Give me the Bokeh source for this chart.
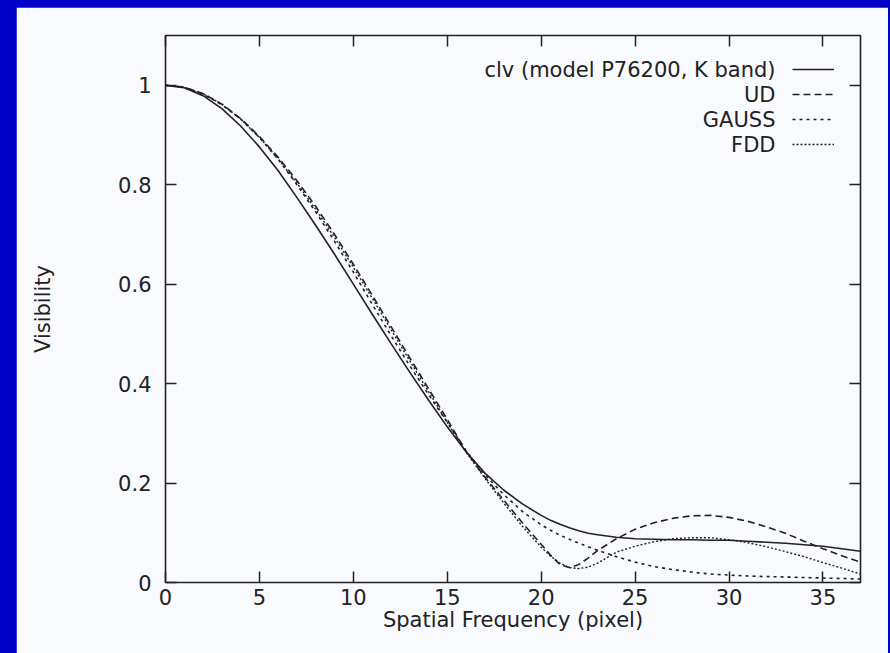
from bokeh.plotting import figure
from bokeh.models import (LinearAxis, FixedTicker, Label, Legend, LegendItem)
from bokeh.layouts import column
from bokeh.embed import file_html
from bokeh.resources import INLINE

# ---------------- data ----------------
freq = [0, 1, 2, 3, 4, 5, 6, 7, 8, 9, 10, 11, 12, 13, 14, 15, 16, 17, 18, 19, 20,
        20.5, 21, 21.5, 22, 22.5, 23, 24, 25, 26, 27, 28, 29, 30, 31, 32, 33, 34, 35, 36, 37]

clv = [1.0, 0.995, 0.979, 0.953, 0.918, 0.876, 0.828, 0.774, 0.718, 0.660, 0.600,
       0.540, 0.481, 0.423, 0.367, 0.313, 0.263, 0.220, 0.186, 0.158, 0.135,
       0.125, 0.117, 0.110, 0.104, 0.099, 0.096, 0.091, 0.088, 0.087, 0.086,
       0.086, 0.085, 0.085, 0.083, 0.081, 0.079, 0.076, 0.073, 0.068, 0.063]

ud = [1.0, 0.996, 0.983, 0.962, 0.933, 0.897, 0.855, 0.808, 0.756, 0.700, 0.640,
      0.578, 0.515, 0.452, 0.390, 0.328, 0.264, 0.212, 0.166, 0.120, 0.077,
      0.055, 0.036, 0.030, 0.036, 0.049, 0.064, 0.088, 0.107, 0.120, 0.129,
      0.134, 0.135, 0.131, 0.123, 0.112, 0.099, 0.083, 0.068, 0.054, 0.041]

gauss = [1.0, 0.995, 0.982, 0.961, 0.932, 0.895, 0.851, 0.800, 0.745, 0.686, 0.624,
         0.560, 0.497, 0.436, 0.378, 0.322, 0.265, 0.217, 0.177, 0.143, 0.116,
         0.105, 0.095, 0.087, 0.079, 0.072, 0.065, 0.052, 0.041, 0.032, 0.026,
         0.021, 0.017, 0.015, 0.013, 0.012, 0.011, 0.010, 0.009, 0.008, 0.007]

fdd = [1.0, 0.996, 0.983, 0.962, 0.932, 0.895, 0.852, 0.803, 0.750, 0.694, 0.634,
       0.572, 0.509, 0.446, 0.384, 0.322, 0.262, 0.210, 0.160, 0.113, 0.071,
       0.053, 0.039, 0.030, 0.028, 0.031, 0.039, 0.061, 0.073, 0.082, 0.088,
       0.090, 0.090, 0.086, 0.080, 0.072, 0.062, 0.052, 0.040, 0.029, 0.017]

series_names = ["clv (model P76200, K band)", "UD", "GAUSS", "FDD"]
x_ticks = [0, 5, 10, 15, 20, 25, 30, 35]
y_ticks = [0, 0.2, 0.4, 0.6, 0.8, 1]
y_tick_labels = ["0", "0.2", "0.4", "0.6", "0.8", "1"]

# ---------------- styling ----------------
BLUE = "#0000c8"
PANEL = "#f8fafd"
INK = "#222222"
FONT = "DejaVu Sans"
FS = "21px"

p = figure(width=872, height=646, x_range=(0, 37), y_range=(0, 1.1),
           output_backend="svg", toolbar_location=None,
           margin=(7, 2, 0, 16),
           min_border_left=149, min_border_right=28, min_border_top=28, min_border_bottom=71,
           border_fill_color=PANEL, background_fill_color=PANEL,
           outline_line_color=INK, outline_line_width=1.6)
p.xgrid.visible = False
p.ygrid.visible = False

def style_axis(ax, show_labels):
    ax.axis_line_color = None
    ax.major_tick_in = 11
    ax.major_tick_out = 0
    ax.minor_tick_line_color = None
    ax.major_tick_line_color = INK
    ax.major_tick_line_width = 1.5
    ax.major_label_text_font = FONT
    if show_labels:
        ax.major_label_text_font_size = FS
        ax.major_label_text_color = INK
    else:
        ax.major_label_text_font_size = "0px"
        ax.major_label_text_color = None
        ax.major_label_standoff = 0

xax = p.xaxis[0]
yax = p.yaxis[0]
xax.ticker = FixedTicker(ticks=x_ticks)
yax.ticker = FixedTicker(ticks=y_ticks)
yax.major_label_overrides = {t: s for t, s in zip(y_ticks, y_tick_labels)}
style_axis(xax, True)
style_axis(yax, True)
xax.major_label_standoff = 6
yax.major_label_standoff = 14
xax.axis_label = "Spatial Frequency (pixel)"
yax.axis_label = "Visibility"
for ax in (xax, yax):
    ax.axis_label_text_font = FONT
    ax.axis_label_text_font_size = FS
    ax.axis_label_text_font_style = "normal"
    ax.axis_label_text_color = INK
xax.axis_label_standoff = 0
yax.axis_label_standoff = 60

top_ax = LinearAxis(ticker=FixedTicker(ticks=x_ticks))
right_ax = LinearAxis(ticker=FixedTicker(ticks=y_ticks))
style_axis(top_ax, False)
style_axis(right_ax, False)
p.add_layout(top_ax, "above")
p.add_layout(right_ax, "right")

r_clv = p.line(freq, clv, line_color=INK, line_width=1.6)
r_ud = p.line(freq, ud, line_color=INK, line_width=1.6, line_dash="7 4")
r_gauss = p.line(freq, gauss, line_color=INK, line_width=1.6, line_dash="3 4")
r_fdd = p.line(freq, fdd, line_color=INK, line_width=1.4, line_dash="2 2")

# legend: line samples on the right, texts right-aligned to their left (gnuplot style)
legend = Legend(items=[LegendItem(label=" ", renderers=[r]) for r in (r_clv, r_ud, r_gauss, r_fdd)],
                location=(627, 428), orientation="vertical",
                glyph_width=42, glyph_height=20, spacing=5, padding=0, margin=0,
                label_width=0, label_standoff=0, label_height=20,
                label_text_font_size="1px", label_text_color=None,
                border_line_color=None, background_fill_alpha=0)
p.add_layout(legend, "center")

for i, name in enumerate(series_names):
    p.add_layout(Label(x=610, y=513 - 25 * i, x_units="screen", y_units="screen",
                       text=name, text_align="right", text_baseline="middle",
                       text_font=FONT, text_font_size=FS, text_color=INK))

layout = column(p, styles={"background-color": BLUE})
open("out.html", "w").write(file_html(layout, INLINE))
